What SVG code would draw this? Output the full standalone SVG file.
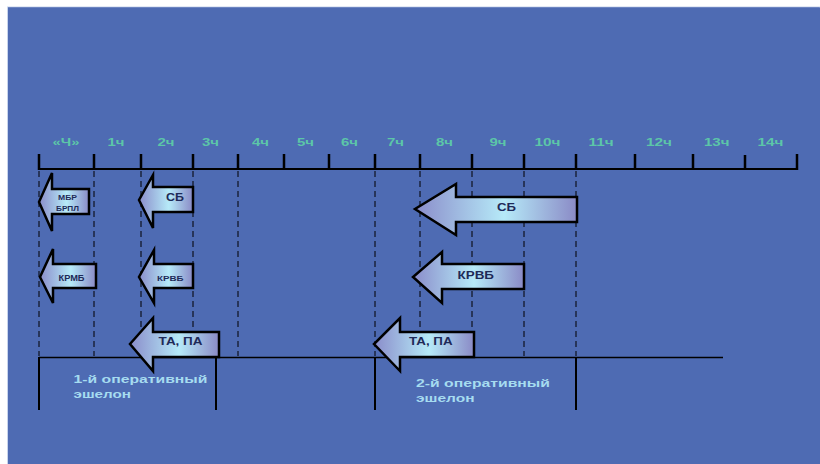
<svg xmlns="http://www.w3.org/2000/svg" width="820" height="464" viewBox="0 0 820 464">
<defs>
<linearGradient id="g" x1="0" y1="0" x2="1" y2="0">
<stop offset="0" stop-color="#8a8cca"/>
<stop offset="0.55" stop-color="#b6eaf8"/>
<stop offset="1" stop-color="#8a8ac6"/>
</linearGradient>
<style>
.tick{stroke:#000;stroke-width:2.5}
.axis{stroke:#000;stroke-width:2}
.dash{stroke:#000;stroke-width:1;stroke-dasharray:6,4}
.sol{stroke:#000;stroke-width:1.5}
.solv{stroke:#000;stroke-width:2}
.hr{font-family:"Liberation Sans",Arial,sans-serif;font-weight:bold;font-size:10.5px;fill:#5cc6a8}
.arr{fill:url(#g);stroke:#000;stroke-width:2.5;stroke-linejoin:miter}
.at{font-family:"Liberation Sans",Arial,sans-serif;font-weight:bold;fill:#1e2a58}
.lb{font-family:"Liberation Sans",Arial,sans-serif;font-weight:bold;font-size:11.5px;fill:#a6dcf0}
</style>
</defs>
<rect x="0" y="0" width="820" height="464" fill="#ffffff"/>
<rect x="7.5" y="7" width="812.5" height="457" fill="#4e6bb3" stroke="#c8d4ec" stroke-width="1"/>
<rect x="8" y="7.5" width="812" height="457" fill="#4e6bb3"/>

<g id="timeline">
<line class="axis" x1="39" y1="169" x2="797" y2="169"/>
<g class="tick">
<line x1="39" y1="154" x2="39" y2="170"/>
<line x1="94" y1="154" x2="94" y2="170"/>
<line x1="141" y1="154" x2="141" y2="170"/>
<line x1="193" y1="154" x2="193" y2="170"/>
<line x1="238" y1="154" x2="238" y2="170"/>
<line x1="284" y1="154" x2="284" y2="170"/>
<line x1="329" y1="154" x2="329" y2="170"/>
<line x1="375" y1="154" x2="375" y2="170"/>
<line x1="420" y1="154" x2="420" y2="170"/>
<line x1="472" y1="154" x2="472" y2="170"/>
<line x1="524" y1="154" x2="524" y2="170"/>
<line x1="576" y1="154" x2="576" y2="170"/>
<line x1="635" y1="154" x2="635" y2="170"/>
<line x1="693" y1="154" x2="693" y2="170"/>
<line x1="745" y1="155" x2="745" y2="170"/>
<line x1="797" y1="154" x2="797" y2="170"/>
</g>
<text class="hr" x="52.5" y="146" textLength="27" lengthAdjust="spacingAndGlyphs">«Ч»</text>
<text class="hr" x="107.5" y="146" textLength="17" lengthAdjust="spacingAndGlyphs">1ч</text>
<text class="hr" x="157.5" y="146" textLength="17" lengthAdjust="spacingAndGlyphs">2ч</text>
<text class="hr" x="202" y="146" textLength="17" lengthAdjust="spacingAndGlyphs">3ч</text>
<text class="hr" x="252" y="146" textLength="17" lengthAdjust="spacingAndGlyphs">4ч</text>
<text class="hr" x="297" y="146" textLength="17" lengthAdjust="spacingAndGlyphs">5ч</text>
<text class="hr" x="341" y="146" textLength="17" lengthAdjust="spacingAndGlyphs">6ч</text>
<text class="hr" x="387" y="146" textLength="17" lengthAdjust="spacingAndGlyphs">7ч</text>
<text class="hr" x="436" y="146" textLength="17" lengthAdjust="spacingAndGlyphs">8ч</text>
<text class="hr" x="489.5" y="146" textLength="17" lengthAdjust="spacingAndGlyphs">9ч</text>
<text class="hr" x="534.5" y="146" textLength="26" lengthAdjust="spacingAndGlyphs">10ч</text>
<text class="hr" x="588.5" y="146" textLength="25" lengthAdjust="spacingAndGlyphs">11ч</text>
<text class="hr" x="646" y="146" textLength="26" lengthAdjust="spacingAndGlyphs">12ч</text>
<text class="hr" x="704" y="146" textLength="25.5" lengthAdjust="spacingAndGlyphs">13ч</text>
<text class="hr" x="757.5" y="146" textLength="26" lengthAdjust="spacingAndGlyphs">14ч</text>
</g>

<g id="connectors">
<g class="dash">
<line x1="39" y1="171" x2="39" y2="356"/>
<line x1="94" y1="171" x2="94" y2="356"/>
<line x1="141" y1="171" x2="141" y2="356"/>
<line x1="193" y1="171" x2="193" y2="356"/>
<line x1="238" y1="171" x2="238" y2="356"/>
<line x1="375" y1="171" x2="375" y2="356"/>
<line x1="420" y1="171" x2="420" y2="356"/>
<line x1="472" y1="171" x2="472" y2="356"/>
<line x1="524" y1="171" x2="524" y2="356"/>
<line x1="576" y1="171" x2="576" y2="356"/>
</g>
<line class="sol" x1="39" y1="357.5" x2="723" y2="357.5"/>
<g class="solv">
<line x1="39" y1="357" x2="39" y2="410"/>
<line x1="216" y1="357" x2="216" y2="410"/>
<line x1="375" y1="357" x2="375" y2="410"/>
<line x1="576" y1="357" x2="576" y2="410"/>
</g>
</g>

<g id="arrow-mbr">
<polygon class="arr" points="89,189 52,189 52,173 39,202 52,231 52,214 89,214"/>
<text class="at" x="58" y="200" font-size="7.5" textLength="19" lengthAdjust="spacingAndGlyphs">МБР</text>
<text class="at" x="56" y="210.5" font-size="7.5" textLength="23" lengthAdjust="spacingAndGlyphs">БРПЛ</text>
</g>
<g id="arrow-sb1">
<polygon class="arr" points="193,187 153,187 153,175 139,200 153,228 153,212 193,212"/>
<text class="at" x="166" y="201" font-size="10" textLength="18" lengthAdjust="spacingAndGlyphs">СБ</text>
</g>
<g id="arrow-krmb">
<polygon class="arr" points="96,264 53,264 53,249 40,277 53,303 53,288 96,288"/>
<text class="at" x="58.5" y="281" font-size="8.5" textLength="26" lengthAdjust="spacingAndGlyphs">КРМБ</text>
</g>
<g id="arrow-krvb1">
<polygon class="arr" points="193,264 154,264 154,250 139,277 154,303 154,288 193,288"/>
<text class="at" x="157" y="281" font-size="8" textLength="26.5" lengthAdjust="spacingAndGlyphs">КРВБ</text>
</g>
<g id="arrow-ta1">
<polygon class="arr" points="219,332 153,332 153,318 130,344 153,371 153,357 219,357"/>
<text class="at" x="158.5" y="345" font-size="10" textLength="44" lengthAdjust="spacingAndGlyphs">ТА, ПА</text>
</g>
<g id="arrow-sb2">
<polygon class="arr" points="577,197 456,197 456,184 415,209 456,235 456,222 577,222"/>
<text class="at" x="497" y="210.5" font-size="10.5" textLength="19" lengthAdjust="spacingAndGlyphs">СБ</text>
</g>
<g id="arrow-krvb2">
<polygon class="arr" points="524,264 442,264 442,252 413,277 442,303 442,289 524,289"/>
<text class="at" x="457.5" y="278.5" font-size="10" textLength="36.5" lengthAdjust="spacingAndGlyphs">КРВБ</text>
</g>
<g id="arrow-ta2">
<polygon class="arr" points="474,332 400,332 400,318 374,344 400,371 400,357 474,357"/>
<text class="at" x="409" y="345" font-size="10" textLength="43.5" lengthAdjust="spacingAndGlyphs">ТА, ПА</text>
</g>

<g id="echelon1">
<text class="lb" x="73.5" y="383" textLength="134" lengthAdjust="spacingAndGlyphs">1-й оперативный</text>
<text class="lb" x="73.5" y="397.5" textLength="57.5" lengthAdjust="spacingAndGlyphs">эшелон</text>
</g>
<g id="echelon2">
<text class="lb" x="416" y="387" textLength="134" lengthAdjust="spacingAndGlyphs">2-й оперативный</text>
<text class="lb" x="416" y="401.5" textLength="58.5" lengthAdjust="spacingAndGlyphs">эшелон</text>
</g>
</svg>
